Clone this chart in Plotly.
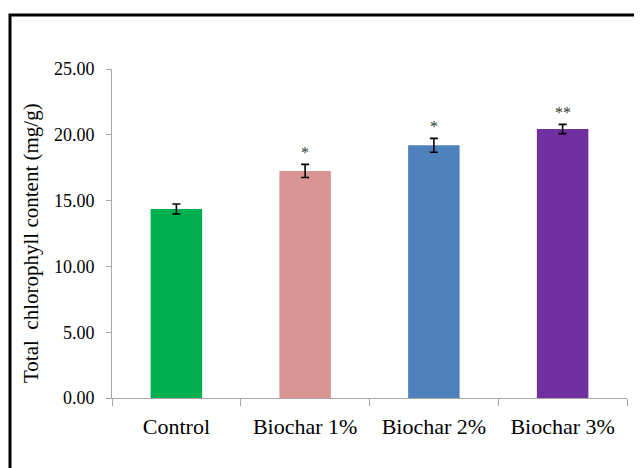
import plotly.graph_objects as go

categories = ["Control", "Biochar 1%", "Biochar 2%", "Biochar 3%"]
values = [14.36, 17.25, 19.20, 20.44]
errors = [0.38, 0.50, 0.53, 0.35]
significance = ["", "*", "*", "**"]
bar_colors = ["#00B050", "#D99594", "#4F81BD", "#7030A0"]
y_ticks = [0, 5, 10, 15, 20, 25]
y_title = "Total  chlorophyll content (mg/g)"

# the page body adds an 8px offset, so figure coordinates = screen - 8
OFF = 8
W, H = 634, 460
L, R, T, B = 112 - OFF, 15, 69 - OFF, 70
pw, ph = W - L - R, H - T - B

def px(x):
    return (x - OFF - L) / pw

def py(y):
    return (H - B - (y - OFF)) / ph

fig = go.Figure()
fig.add_trace(go.Bar(
    x=categories, y=values, width=0.40,
    marker=dict(color=bar_colors, line=dict(width=0)),
    error_y=dict(type="data", array=errors, visible=True,
                 color="black", thickness=1.6, width=4),
))

annotations = []
for c, v, e, s in zip(categories, values, errors, significance):
    if s:
        annotations.append(dict(x=c, y=v + e, xref="x", yref="y", text=s,
                                showarrow=False, yanchor="bottom", yshift=1,
                                font=dict(family="Liberation Serif", size=16, color="#333333")))
annotations.append(dict(x=px(31), y=py(243), xref="paper", yref="paper", text=y_title,
                        textangle=-90, showarrow=False, xanchor="center", yanchor="middle",
                        font=dict(family="Liberation Serif", size=21, color="black")))

fig.update_layout(
    width=W, height=H,
    margin=dict(l=L, r=R, t=T, b=B, pad=0),
    paper_bgcolor="white", plot_bgcolor="white",
    showlegend=False,
    font=dict(family="Liberation Serif", color="black"),
    annotations=annotations,
    shapes=[dict(type="rect", xref="paper", yref="paper",
                 x0=px(10), x1=px(700), y0=py(520), y1=py(15),
                 line=dict(color="black", width=3), fillcolor="rgba(0,0,0,0)")],
    xaxis=dict(type="category", range=[-0.5, 3.5], showline=True, linecolor="#A6A6A6",
               linewidth=1, ticks="outside", tickson="boundaries", ticklen=7,
               tickcolor="#A6A6A6", showgrid=False, zeroline=False,
               tickfont=dict(family="Liberation Serif", size=22, color="black"),
               ticklabelstandoff=9, automargin=False),
    yaxis=dict(range=[0, 25], tickvals=y_ticks, tickformat=".2f", showline=True,
               linecolor="#A6A6A6", linewidth=1, ticks="outside", ticklen=5,
               tickcolor="#A6A6A6", showgrid=False, zeroline=False,
               tickfont=dict(family="Liberation Serif", size=18, color="black"),
               ticklabelstandoff=8, automargin=False),
)

fig.write_html("out.html")
